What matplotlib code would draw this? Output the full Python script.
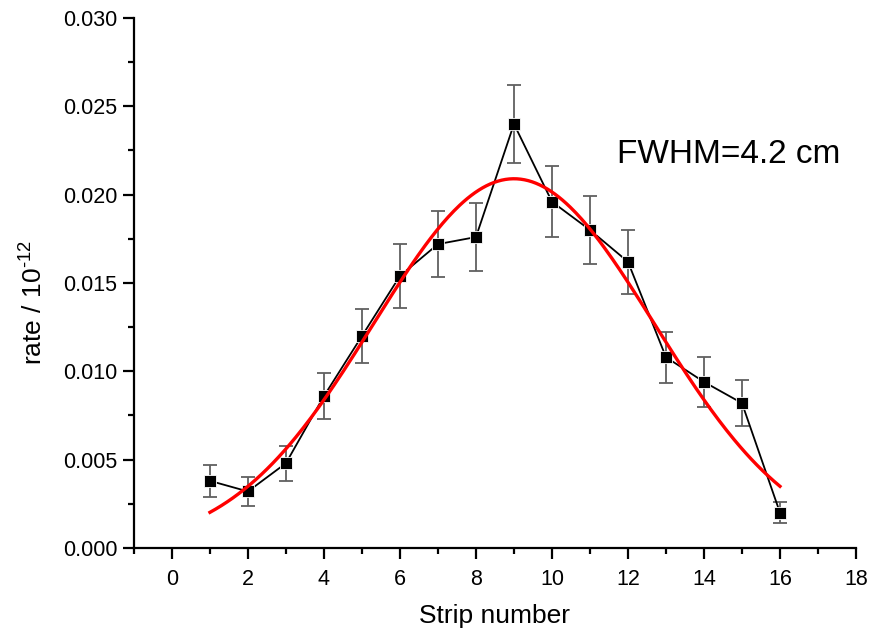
import matplotlib
matplotlib.use("Agg")
import matplotlib.pyplot as plt
from matplotlib.ticker import MultipleLocator
import numpy as np

plt.rcParams['font.family'] = ['Liberation Sans', 'DejaVu Sans']
plt.rcParams['mathtext.fontset'] = 'custom'
plt.rcParams['mathtext.rm'] = 'Liberation Sans'
plt.rcParams['mathtext.it'] = 'Liberation Sans'
plt.rcParams['mathtext.default'] = 'regular'

# measured rate per strip
strip = [1, 2, 3, 4, 5, 6, 7, 8, 9, 10, 11, 12, 13, 14, 15, 16]
rate = [0.0038, 0.0032, 0.0048, 0.0086, 0.0120, 0.0154, 0.0172, 0.0176,
        0.0240, 0.0196, 0.0180, 0.0162, 0.0108, 0.0094, 0.0082, 0.0020]
rate_err = [0.0009, 0.0008, 0.0010, 0.0013, 0.00155, 0.0018, 0.00185, 0.0019,
            0.0022, 0.0020, 0.0019, 0.0018, 0.00145, 0.0014, 0.0013, 0.0006]

# gaussian fit parameters
fit_amp = 0.0209
fit_center = 9.0
fit_sigma = 3.7
fit_range = (1, 16)

fig = plt.figure(figsize=(8.79, 6.29), dpi=100)
ax = fig.add_axes([0.1524, 0.1288, 0.8214, 0.8426])

ax.errorbar(strip, rate, yerr=rate_err, fmt='none', ecolor='#606060',
            elinewidth=1.3, capsize=5, capthick=1.3, zorder=2)
ax.plot(strip, rate, color='black', lw=1.3, marker='s', ms=8.5,
        mfc='black', mec='white', mew=0.6, zorder=3)

xf = np.linspace(fit_range[0], fit_range[1], 300)
yf = fit_amp * np.exp(-(xf - fit_center) ** 2 / (2 * fit_sigma ** 2))
ax.plot(xf, yf, color='red', lw=2.4, zorder=4)

ax.text(11.7, 0.0218, 'FWHM=4.2 cm', fontsize=24, va='baseline')

ax.set_xlim(-1, 18)
ax.set_ylim(0, 0.030)
ax.xaxis.set_major_locator(MultipleLocator(2))
ax.xaxis.set_minor_locator(MultipleLocator(1))
ax.yaxis.set_major_locator(MultipleLocator(0.005))
ax.yaxis.set_minor_locator(MultipleLocator(0.0025))
ax.yaxis.set_major_formatter(plt.FormatStrFormatter('%.3f'))

for s in ['top', 'right']:
    ax.spines[s].set_visible(False)
for s in ['left', 'bottom']:
    ax.spines[s].set_linewidth(1.6)

ax.tick_params(which='major', direction='out', length=8, width=1.6,
               labelsize=15.5, pad=4)
ax.tick_params(which='minor', direction='out', length=4.5, width=1.6)
ax.tick_params(axis='x', which='major', pad=7)

ax.set_xlabel('Strip number', fontsize=19, labelpad=10)
ax.set_ylabel('rate / 10$^{\\text{-}12}$', fontsize=19)
ax.yaxis.set_label_coords(-0.119, 0.462)

fig.savefig('out.png', dpi=100)
